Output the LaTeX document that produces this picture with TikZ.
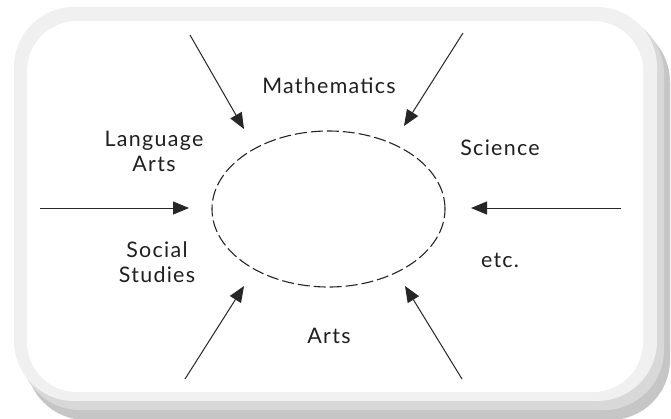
\documentclass[tikz,border=0pt]{standalone}
\usepackage{fontspec}
\setmainfont{Lato}[LetterSpace=6]
\usetikzlibrary{arrows.meta,shapes.geometric}
\definecolor{shadowdark}{HTML}{C6C6C6}
\definecolor{shadowmid}{HTML}{D8D8D8}
\definecolor{framegray}{HTML}{F0F0F0}
\tikzset{
  lbl/.style={font=\fontsize{21.5}{25}\selectfont, text=black!88, align=center, inner sep=0pt},
  feed/.style={draw=black!85, line width=1bp, -{Triangle[length=16bp,width=13bp]}},
}
\begin{document}
\begin{tikzpicture}[x=1bp,y=-1bp]
\useasboundingbox (0,0) rectangle (671,418);
% shadow and frame
\fill[shadowdark, rounded corners=60bp] (26,22) rectangle (670,420);
\fill[shadowmid, rounded corners=60bp] (20,14) rectangle (664,410);
\fill[framegray, rounded corners=60bp] (14,7) rectangle (657,401);
\fill[white, rounded corners=50bp] (27,21) rectangle (643,392);
% central ellipse
\node[draw=black!85, line width=1.1bp, dash pattern=on 12bp off 4bp, ellipse, minimum width=233bp, minimum height=156bp, inner sep=0pt] (core) at (328.5,209) {};
% labels
\node[lbl] (math) at (329,86) {Mathematics};
\node[lbl] (lang) at (154,151) {Language\\Arts};
\node[lbl] (sci) at (500,148) {Science};
\node[lbl] (soc) at (157,262) {Social\\Studies};
\node[lbl] (etc) at (500,260) {etc.};
\node[lbl] (arts) at (329,336) {Arts};
% arrow endpoints
\coordinate (s1) at (190,35);  \coordinate (t1) at (244,129);
\coordinate (s2) at (463,33);  \coordinate (t2) at (404,126);
\coordinate (s3) at (40,208);  \coordinate (t3) at (189,208);
\coordinate (s4) at (621,208); \coordinate (t4) at (471,208);
\coordinate (s5) at (185,379); \coordinate (t5) at (244,286);
\coordinate (s6) at (462,379); \coordinate (t6) at (405,286);
\draw[feed] (s1) -- (t1);
\draw[feed] (s2) -- (t2);
\draw[feed] (s3) -- (t3);
\draw[feed] (s4) -- (t4);
\draw[feed] (s5) -- (t5);
\draw[feed] (s6) -- (t6);
\end{tikzpicture}
\end{document}
